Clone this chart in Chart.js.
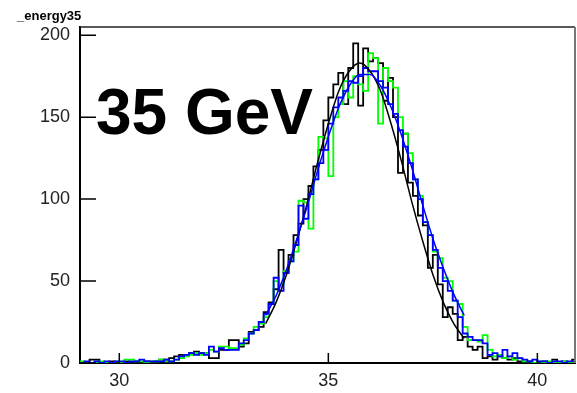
<!DOCTYPE html>
<html>
<head>
<meta charset="utf-8">
<script src="https://cdn.jsdelivr.net/npm/chart.js@4"></script>
<style>
  html, body { margin: 0; padding: 0; background: #fff; }
  #wrap { width: 577px; height: 393px; position: relative; }
</style>
</head>
<body>
<div id="wrap"><canvas id="c"></canvas></div>
<script>
// histogram binning (100 bins)
const X_LOW = 29.05;
const BIN_W = 0.119;
const X_MIN = 29.06;
const X_MAX = 40.9;
const Y_MAX = 205;
const X_TICKS = [30, 35, 40];
const Y_TICKS = [0, 50, 100, 150, 200];

const blackCounts = [
  0, 0, 2, 2, 0, 0, 1, 0, 0, 1,
  0, 1, 0, 1, 0, 1, 2, 2, 3, 4,
  5, 5, 6, 7, 6, 6, 3, 3, 8, 8,
  14, 14, 10, 12, 19, 20, 22, 31, 37, 45,
  69, 55, 66, 78, 85, 100, 108, 120, 130, 148,
  162, 170, 177, 158, 180, 195, 157, 192, 184, 186,
  183, 160, 174, 150, 116, 140, 110, 102, 90, 84,
  58, 66, 48, 28, 34, 30, 14, 16, 10, 8,
  10, 3, 4, 2, 4, 3, 2, 3, 1, 0,
  1, 0, 0, 1, 0, 2, 0, 1, 0, 2
];
const greenCounts = [
  1, 0, 0, 0, 1, 0, 0, 1, 0, 2,
  2, 1, 1, 0, 1, 1, 2, 1, 1, 2,
  3, 4, 5, 6, 5, 6, 8, 7, 10, 10,
  9, 9, 11, 15, 18, 22, 24, 28, 36, 50,
  48, 56, 62, 68, 99, 98, 82, 112, 138, 137,
  114, 150, 158, 172, 162, 175, 170, 166, 189, 186,
  146, 180, 172, 168, 150, 140, 128, 112, 102, 86,
  78, 68, 64, 52, 50, 38, 36, 22, 14, 14,
  13, 17, 8, 4, 5, 3, 4, 2, 3, 1,
  1, 0, 1, 0, 1, 0, 0, 1, 0, 0
];
const blueCounts = [
  0, 1, 0, 1, 0, 1, 0, 1, 1, 0,
  1, 1, 2, 1, 1, 1, 1, 2, 1, 2,
  4, 5, 6, 5, 6, 5, 10, 7, 9, 8,
  8, 8, 12, 14, 18, 20, 25, 30, 36, 52,
  44, 55, 62, 72, 96, 88, 103, 112, 122, 130,
  146, 156, 162, 166, 172, 171, 175, 180, 178, 178,
  172, 168, 158, 152, 142, 132, 122, 112, 100, 86,
  78, 69, 58, 50, 44, 38, 28, 18, 16, 14,
  14, 12, 5, 6, 4, 8, 4, 6, 3, 2,
  1, 2, 1, 1, 0, 1, 1, 0, 1, 1
];

// gaussian fit curves
const fitX = [33.5, 33.75, 34, 34.25, 34.5, 34.75, 35, 35.25, 35.5, 35.75,
              36, 36.25, 36.5, 36.75, 37, 37.25, 37.5, 37.75, 38, 38.25];
const fitBlack = [24, 37, 54, 75, 98, 123, 146, 166, 178, 183,
                  178, 166, 146, 123, 98, 75, 54, 37, 24, 15];
const fitBlue = [29, 41, 57, 76, 96, 118, 138, 156, 169, 176,
                 176, 169, 156, 139, 119, 97, 76, 58, 42, 29];

function histPoints(counts) {
  const pts = counts.map((v, i) => ({ x: X_LOW + i * BIN_W, y: v }));
  pts.push({ x: X_LOW + counts.length * BIN_W, y: counts[counts.length - 1] });
  return pts;
}
function curvePoints(xs, ys) {
  return xs.map((x, i) => ({ x, y: ys[i] }));
}

const FONT = "'Liberation Sans', Arial, Helvetica, sans-serif";

const rootFrame = {
  id: "rootFrame",
  afterDraw(chart) {
    const { ctx, chartArea: a, scales } = chart;
    ctx.save();
    // top & right frame
    ctx.strokeStyle = "#222";
    ctx.lineWidth = 1.5;
    ctx.beginPath();
    ctx.moveTo(a.left, a.top);
    ctx.lineTo(a.right, a.top);
    ctx.stroke();
    ctx.strokeStyle = "#777";
    ctx.lineWidth = 2;
    ctx.beginPath();
    ctx.moveTo(a.right, a.top);
    ctx.lineTo(a.right, a.bottom);
    ctx.stroke();
    // inward ticks
    ctx.strokeStyle = "#000";
    ctx.lineWidth = 1.5;
    ctx.beginPath();
    for (const t of scales.x.ticks) {
      const px = scales.x.getPixelForValue(t.value);
      ctx.moveTo(px, a.bottom);
      ctx.lineTo(px, a.bottom - 10);
    }
    for (const t of scales.y.ticks) {
      const py = scales.y.getPixelForValue(t.value);
      ctx.moveTo(a.left, py);
      ctx.lineTo(a.left + 16, py);
    }
    ctx.stroke();
    // texts
    ctx.fillStyle = "#000";
    ctx.textBaseline = "alphabetic";
    ctx.font = "bold 13px " + FONT;
    ctx.fillText("_energy35", 17, 20);
    ctx.font = "bold 64px " + FONT;
    ctx.fillText("35 GeV", 96, 134);
    ctx.restore();
  }
};

new Chart(document.getElementById("c"), {
  type: "line",
  data: {
    datasets: [
      { label: "black", data: histPoints(blackCounts), borderColor: "#000", borderWidth: 1.8, stepped: true, pointRadius: 0, order: 4 },
      { label: "green", data: histPoints(greenCounts), borderColor: "#00ff00", borderWidth: 1.8, stepped: true, pointRadius: 0, order: 3 },
      { label: "blue", data: histPoints(blueCounts), borderColor: "#0000ff", borderWidth: 1.8, stepped: true, pointRadius: 0, order: 2 },
      { label: "fit black", data: curvePoints(fitX, fitBlack), borderColor: "#000", borderWidth: 1.5, tension: 0.4, cubicInterpolationMode: "monotone", pointRadius: 0, order: 1 },
      { label: "fit blue", data: curvePoints(fitX, fitBlue), borderColor: "#0000ff", borderWidth: 1.5, tension: 0.4, cubicInterpolationMode: "monotone", pointRadius: 0, order: 0 },
    ],
  },
  options: {
    responsive: true,
    maintainAspectRatio: false,
    animation: false,
    layout: { padding: { top: 27, right: 2, left: 0, bottom: 0 } },
    plugins: { legend: { display: false }, tooltip: { enabled: false }, title: { display: false } },
    scales: {
      x: {
        type: "linear",
        min: X_MIN,
        max: X_MAX,
        afterBuildTicks: (s) => { s.ticks = X_TICKS.map((v) => ({ value: v })); },
        afterFit: (s) => { s.height = 30; },
        grid: { display: false, drawTicks: false },
        border: { display: true, color: "#000", width: 2 },
        ticks: { color: "#222", font: { family: FONT, size: 18 }, padding: 7, maxRotation: 0 },
      },
      y: {
        type: "linear",
        min: 0,
        max: Y_MAX,
        afterBuildTicks: (s) => { s.ticks = Y_TICKS.map((v) => ({ value: v })); },
        afterFit: (s) => { s.width = 80; },
        grid: { display: false, drawTicks: false },
        border: { display: true, color: "#000", width: 2 },
        ticks: { color: "#222", font: { family: FONT, size: 18 }, padding: 10 },
      },
    },
  },
  plugins: [rootFrame],
});
</script>
</body>
</html>
